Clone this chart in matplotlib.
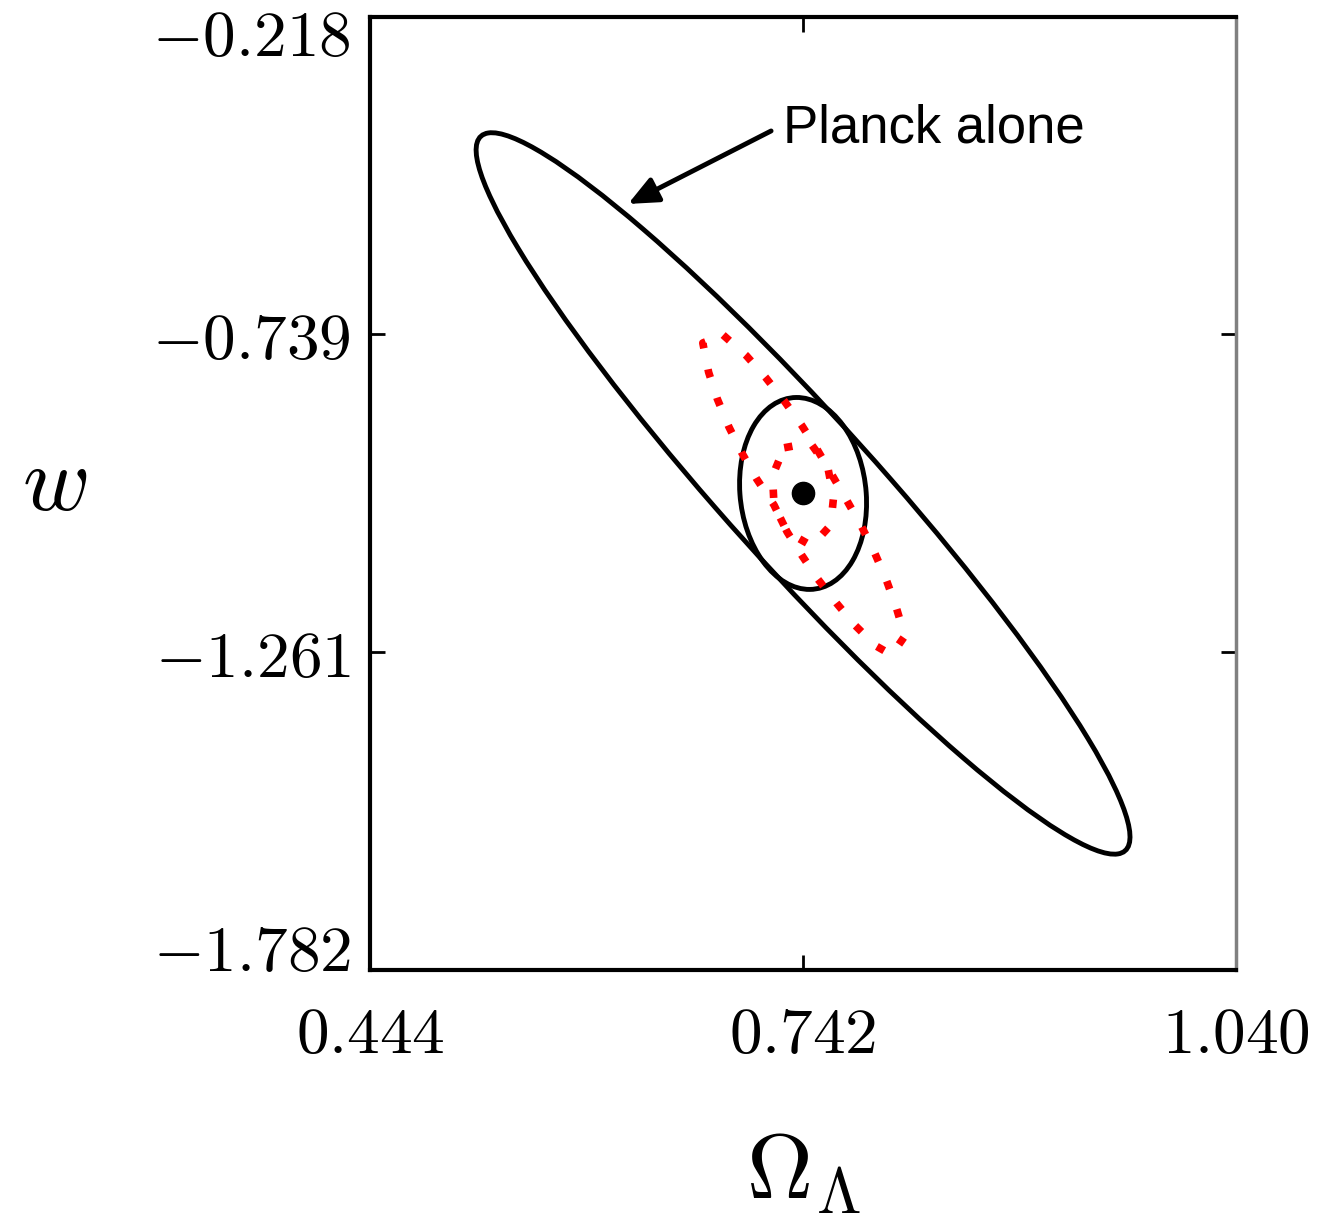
import numpy as np
import matplotlib
matplotlib.use('Agg')
import matplotlib.pyplot as plt
import matplotlib.transforms as mtransforms
from matplotlib.patches import Ellipse

plt.rcParams['mathtext.fontset'] = 'cm'

# fiducial model and axis ticks
fid_omega_l = 0.742
fid_w = -1.0
x_ticks = [0.444, 0.742, 1.040]
y_ticks = [-0.218, -0.739, -1.261, -1.782]
x_tick_labels = ['0.444', '0.742', '1.040']
y_tick_labels = ['-0.218', '-0.739', '-1.261', '-1.782']

# fisher ellipses: (sigma_omega_l, sigma_w, correlation)
planck_alone = (0.225, 0.592, -0.952)
combined = (0.0437, 0.1575, -0.10)

# red dotted contours
outer_x = [0.687, 0.703, 0.716, 0.729, 0.741, 0.752, 0.762, 0.772, 0.782, 0.791,
           0.799, 0.806, 0.812, 0.803, 0.792, 0.778, 0.765, 0.752, 0.741, 0.731,
           0.722, 0.710, 0.700, 0.691, 0.683, 0.677, 0.673, 0.687]
outer_y = [-0.740, -0.774, -0.809, -0.848, -0.888, -0.929, -0.970, -1.011, -1.053, -1.096,
           -1.140, -1.186, -1.234, -1.265, -1.250, -1.217, -1.180, -1.140, -1.101, -1.063,
           -1.019, -0.976, -0.934, -0.891, -0.845, -0.801, -0.753, -0.740]
inner_x = [0.729, 0.747, 0.759, 0.763, 0.761, 0.748, 0.731, 0.722, 0.721, 0.729]
inner_y = [-0.925, -0.917, -0.957, -1.006, -1.052, -1.086, -1.063, -1.019, -0.971, -0.925]

# annotation
label_text = 'Planck alone'
label_pos = (0.7282, -0.4248)
arrow_start = (0.7200, -0.4051)
arrow_tip = (0.6216, -0.5249)


def fisher_ellipse(ax, center, params, **kw):
    '''
    ellipse patch from sigma_x, sigma_y, rho
    '''
    sx, sy, rho = params
    cov = np.array([[sx ** 2, rho * sx * sy], [rho * sx * sy, sy ** 2]])
    vals, vecs = np.linalg.eigh(cov)
    angle = np.degrees(np.arctan2(vecs[1, 1], vecs[0, 1]))
    e = Ellipse(center, 2 * np.sqrt(vals[1]), 2 * np.sqrt(vals[0]), angle=angle,
                fill=False, **kw)
    ax.add_patch(e)


def main():
    fig = plt.figure(figsize=(13.23, 12.19), dpi=100)
    ax = fig.add_axes([0.2797, 0.2043, 0.6546, 0.7818])

    fisher_ellipse(ax, (fid_omega_l, fid_w), planck_alone, lw=3.5, color='black')
    fisher_ellipse(ax, (fid_omega_l, fid_w), combined, lw=3.5, color='black')

    for xs, ys in [(outer_x, outer_y), (inner_x, inner_y)]:
        ax.plot(xs, ys, color='red', lw=5.5, linestyle=(0, (1.1, 2.8)),
                dash_capstyle='butt')

    ax.plot([fid_omega_l], [fid_w], 'o', color='black', ms=16)

    ax.annotate('', xy=arrow_tip, xytext=arrow_start,
                arrowprops=dict(arrowstyle='-|>,head_length=0.9,head_width=0.4',
                                mutation_scale=20, lw=3.5, color='black',
                                shrinkA=0, shrinkB=0))
    ax.text(label_pos[0], label_pos[1], label_text, fontsize=38,
            family='Liberation Sans', ha='left', va='baseline')

    ax.set_xlim(x_ticks[0], x_ticks[-1])
    ax.set_ylim(y_ticks[-1], y_ticks[0])
    ax.set_xticks(x_ticks)
    ax.set_yticks(y_ticks)
    ax.set_xticklabels(['$' + t + '$' for t in x_tick_labels])
    ax.set_yticklabels(['$' + t + '$' for t in y_tick_labels])
    ax.tick_params(direction='in', length=11, width=2, labelsize=47,
                   top=True, right=True)
    ax.tick_params(axis='x', pad=24)
    ax.tick_params(axis='y', pad=14)

    # keep end labels inside the frame height like the original
    up = mtransforms.ScaledTranslation(0, 8 / 72, fig.dpi_scale_trans)
    down = mtransforms.ScaledTranslation(0, -11 / 72, fig.dpi_scale_trans)
    for lab in ax.get_yticklabels():
        if lab.get_text() == '$-0.218$':
            lab.set_va('top')
            lab.set_transform(lab.get_transform() + up)
        elif lab.get_text() == '$-1.782$':
            lab.set_va('bottom')
            lab.set_transform(lab.get_transform() + down)

    for side in ['left', 'bottom', 'top']:
        ax.spines[side].set_linewidth(3)
    ax.spines['right'].set_linewidth(2.5)
    ax.spines['right'].set_color('#808080')

    ax.set_xlabel(r'$\Omega_\Lambda$', fontsize=66, va='top')
    ax.xaxis.set_label_coords(0.5, -0.165)
    ax.set_ylabel(r'$w$', fontsize=66, rotation=0, va='center', ha='center')
    ax.yaxis.set_label_coords(-0.364, 0.51)

    fig.savefig('out.png', dpi=100)


main()
